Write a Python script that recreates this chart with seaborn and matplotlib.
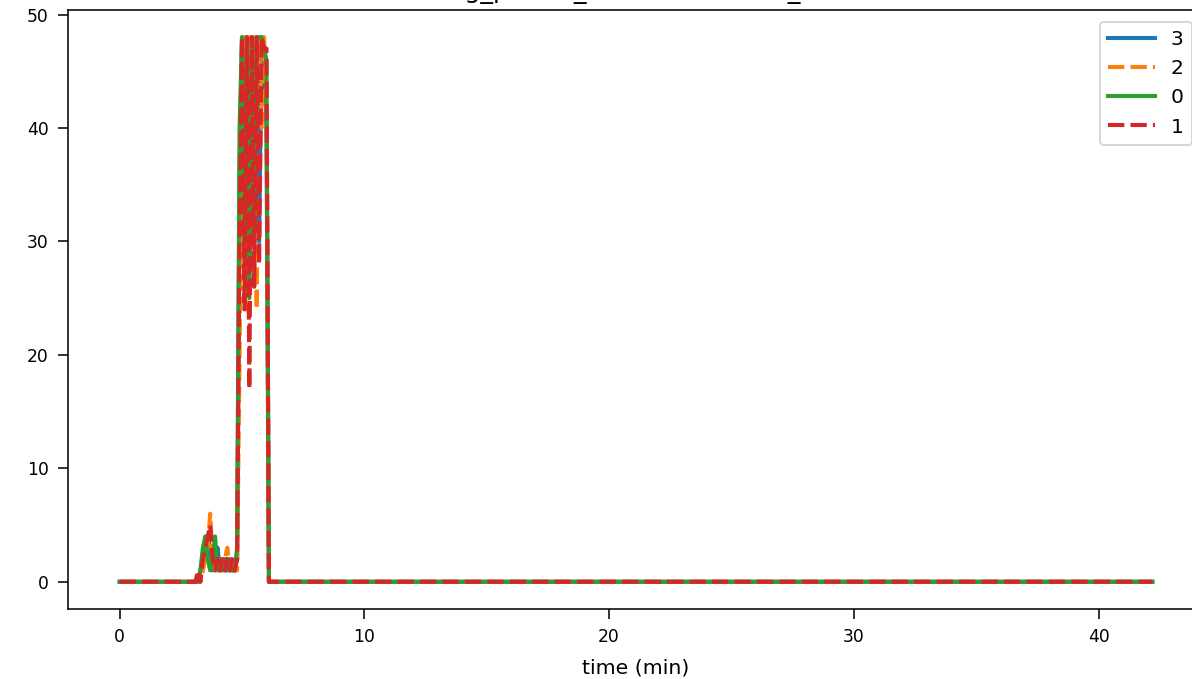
import seaborn as sns
import numpy as np
import pandas as pd
import matplotlib.pyplot as plt

# time points (min); flat zero stretches are covered by the end points
time_min = [0.0,
            3.0, 3.1, 3.2, 3.3, 3.4, 3.5, 3.6, 3.7, 3.8, 3.9,
            4.0, 4.1, 4.2, 4.3, 4.4, 4.5, 4.6, 4.7, 4.8, 4.9,
            5.0, 5.1, 5.2, 5.3, 5.4, 5.5, 5.6, 5.7, 5.8, 5.9,
            6.0, 6.1, 6.2,
            42.2]

unit_3 = [0,
          0, 0, 0, 1, 2, 3, 4, 3, 1, 2, 3, 1, 2, 1, 1, 2, 1, 1, 2,
          36, 48, 28, 48, 26, 48, 36, 48, 30, 48, 46, 40,
          0, 0, 0]
unit_2 = [0,
          0, 0, 0, 0, 1, 2, 3, 6, 2, 1, 2, 1, 1, 2, 3, 1, 2, 1, 1,
          20, 44, 48, 24, 48, 30, 48, 24, 48, 40, 48, 44,
          0, 0, 0]
unit_0 = [0,
          0, 0, 0, 1, 3, 4, 2, 1, 2, 4, 1, 2, 1, 2, 2, 1, 1, 1, 3,
          40, 48, 30, 48, 25, 48, 30, 48, 48, 48, 47, 46,
          0, 0, 0]
unit_1 = [0,
          0, 0, 1, 0, 2, 3, 4, 5, 2, 1, 2, 1, 2, 1, 2, 1, 2, 1, 2,
          30, 48, 24, 48, 17, 48, 26, 48, 28, 48, 47, 47,
          0, 0, 0]

units = ["3", "2", "0", "1"]
series = {"3": unit_3, "2": unit_2, "0": unit_0, "1": unit_1}

df = pd.concat(
    [pd.DataFrame({"time": time_min, "count": vals, "unit": u}) for u, vals in series.items()],
    ignore_index=True,
)

palette = {"3": "#1f77b4", "2": "#ff7f0e", "0": "#2ca02c", "1": "#d62728"}
dashes = {"3": "", "2": (4, 1.5), "0": "", "1": (4, 1.5)}

fig = plt.figure(figsize=(1192 / 140, 679 / 140), dpi=140)
ax = fig.add_axes([68 / 1192, 70 / 679, 1136 / 1192, 599 / 679])

sns.lineplot(data=df, x="time", y="count", hue="unit", style="unit",
             hue_order=units, style_order=units, palette=palette,
             dashes=dashes, linewidth=2.1, ax=ax)

handles, labels = ax.get_legend_handles_labels()
ax.legend(handles=handles, labels=labels, loc="upper right", fontsize=10.4,
          borderaxespad=0.6, handlelength=2.3)

ax.set_title("og_pulses_rate for channel_id", fontsize=13)
ax.set_xlabel("time (min)", fontsize=10.5, labelpad=6)
ax.set_ylabel("")
ax.set_xticks([0, 10, 20, 30, 40])
ax.tick_params(labelsize=8.8, length=5, pad=5)

fig.savefig("out.png", dpi=140)
